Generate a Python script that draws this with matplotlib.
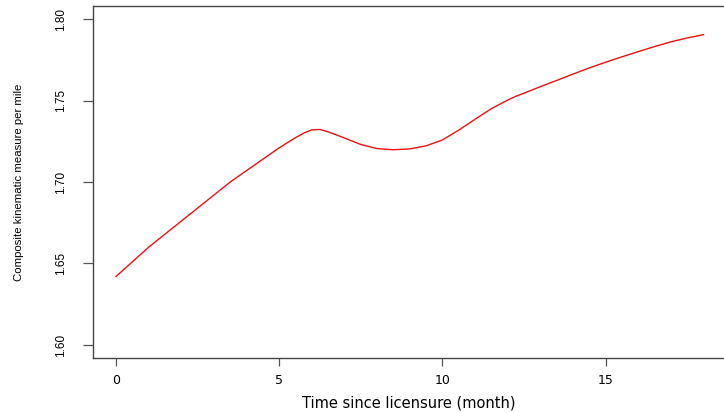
import matplotlib
matplotlib.use("Agg")
import matplotlib.pyplot as plt

# months since licensure and the composite kinematic measure
months = [0, 0.5, 1, 1.5, 2, 2.5, 3, 3.5, 4, 4.5, 5, 5.5, 5.75, 6, 6.25, 6.5,
          7, 7.5, 8, 8.5, 9, 9.5, 10, 10.5, 11, 11.5, 12, 12.25, 12.5, 13,
          13.5, 14, 14.5, 15, 15.5, 16, 16.5, 17, 17.5, 18]
measure = [1.642, 1.651, 1.660, 1.668, 1.676, 1.684, 1.692, 1.700, 1.707, 1.714,
           1.721, 1.7272, 1.7300, 1.7320, 1.7322, 1.7308, 1.7270, 1.7230,
           1.7205, 1.7198, 1.7203, 1.7222, 1.7258, 1.7318, 1.7385, 1.7450,
           1.7503, 1.7526, 1.7545, 1.7585, 1.7623, 1.7662, 1.7700, 1.7735,
           1.7768, 1.7800, 1.7831, 1.7860, 1.7884, 1.7904]
x_ticks = [0, 5, 10, 15]
y_ticks = [1.60, 1.65, 1.70, 1.75, 1.80]

fig = plt.figure(figsize=(7.24, 4.13), dpi=100)
ax = fig.add_axes([92.5 / 724, 55 / 413, 634.5 / 724, 352 / 413])

ax.plot(months, measure, color="#ee1111", lw=1.0)

ax.set_xlim(-0.72, 18.72)
ax.set_ylim(1.592, 1.808)
ax.set_xticks(x_ticks)
ax.set_yticks(y_ticks)
ax.set_xticklabels([str(t) for t in x_ticks], family="DejaVu Sans", fontsize=9)
ax.set_yticklabels(["%.2f" % t for t in y_ticks], family="Liberation Sans",
                   fontsize=8.5, rotation=90, va="center")

ax.tick_params(axis="x", length=6, width=0.9, color="#555555", pad=5.5)
ax.tick_params(axis="y", length=7.5, width=0.9, color="#555555", pad=11)
for s in ax.spines.values():
    s.set_color("#444444")
    s.set_linewidth(1.0)

ax.set_xlabel("Time since licensure (month)", family="DejaVu Sans", fontsize=10.5)
ax.xaxis.set_label_coords((409 - 92.5) / 634.5, -(396 - 358) / 352)
ax.set_ylabel("Composite kinematic measure per mile", family="Liberation Sans",
              fontsize=8.2)
ax.yaxis.set_label_coords(-(92.5 - 24) / 634.5, 0.5)

fig.savefig("out.png", dpi=100)
